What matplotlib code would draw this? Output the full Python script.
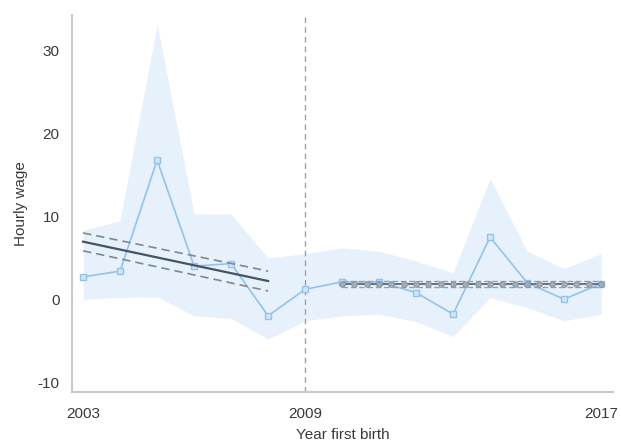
import numpy as np
import matplotlib
matplotlib.use("Agg")
import matplotlib.pyplot as plt

plt.rcParams['font.family'] = ['Liberation Sans', 'DejaVu Sans']
plt.rcParams['axes.unicode_minus'] = False

# yearly mean hourly wage and confidence band
years = [2003, 2004, 2005, 2006, 2007, 2008, 2009, 2010,
         2011, 2012, 2013, 2014, 2015, 2016, 2017]
wage = [2.7, 3.4, 16.8, 4.0, 4.3, -2.0, 1.2, 2.1,
        2.1, 0.8, -1.8, 7.5, 2.0, 0.0, 1.9]
ci_upper = [8.3, 9.5, 33.2, 10.3, 10.3, 5.0, 5.5, 6.2,
            5.8, 4.6, 3.2, 14.6, 5.8, 3.7, 5.5]
ci_lower = [0.0, 0.2, 0.3, -2.0, -2.3, -4.8, -2.6, -2.0,
            -1.8, -2.7, -4.5, 0.2, -1.0, -2.6, -1.8]

# linear fit before 2009 (endpoints)
fit_pre_x = [2003, 2008]
fit_pre = [6.95, 2.2]
fit_pre_hi = [8.0, 3.4]
fit_pre_lo = [5.85, 1.0]

# flat fit after 2009
fit_post_range = (2010, 2017)
fit_post_level = 1.85
fit_post_ci = 0.35

cutoff = 2009
xtick_vals = [2003, 2009, 2017]
ytick_vals = [-10, 0, 10, 20, 30]

fig = plt.figure(figsize=(6.21, 4.44), dpi=100)
ax = fig.add_axes([0.116, 0.117, 0.871, 0.849])

ax.fill_between(years, ci_lower, ci_upper, color='#e3effb', alpha=0.85,
                linewidth=0, zorder=1)
ax.plot(years, wage, color='#93c2ec', lw=1.2, marker='s', ms=5,
        mfc='#d0e5f7', mec='#93c2ec', mew=1, zorder=3)

ax.axvline(cutoff, color='#a0a0a0', ls=(0, (4, 3)), lw=1, zorder=2)

# pre-period fit
ax.plot(fit_pre_x, fit_pre, color='#465362', lw=1.6, zorder=4)
ax.plot(fit_pre_x, fit_pre_hi, color='#7d8791', lw=1.2, ls=(0, (5, 3)), zorder=4)
ax.plot(fit_pre_x, fit_pre_lo, color='#7d8791', lw=1.2, ls=(0, (5, 3)), zorder=4)

# post-period fit
post_x = np.linspace(fit_post_range[0], fit_post_range[1], 22)
post_y = np.full(post_x.shape, fit_post_level)
ax.plot(post_x, post_y + fit_post_ci, color='#96a0aa', lw=1, ls=(0, (4, 2)), zorder=4)
ax.plot(post_x, post_y - fit_post_ci, color='#96a0aa', lw=1, ls=(0, (4, 2)), zorder=4)
ax.plot(post_x, post_y, color='#66727e', lw=1.4, marker='o', ms=4,
        mfc='#a3adb7', mec='#8a95a0', mew=0.7, zorder=5)

ax.set_xlim(2002.7, 2017.32)
ax.set_ylim(-11.2, 34.3)
ax.set_xticks(xtick_vals)
ax.set_xticklabels([str(v) for v in xtick_vals])
ax.set_yticks(ytick_vals)
ax.tick_params(length=0, labelsize=11, colors='#3a3a3a')
ax.tick_params(axis='x', pad=11)
ax.tick_params(axis='y', pad=9)

for s in ['top', 'right']:
    ax.spines[s].set_visible(False)
for s in ['left', 'bottom']:
    ax.spines[s].set_color('#c8c8c8')
    ax.spines[s].set_linewidth(1.5)

ax.set_xlabel('Year first birth', fontsize=11, color='#3a3a3a', labelpad=5)
ax.set_ylabel('Hourly wage', fontsize=11, color='#3a3a3a', labelpad=7)

fig.savefig('out.png', dpi=100)
